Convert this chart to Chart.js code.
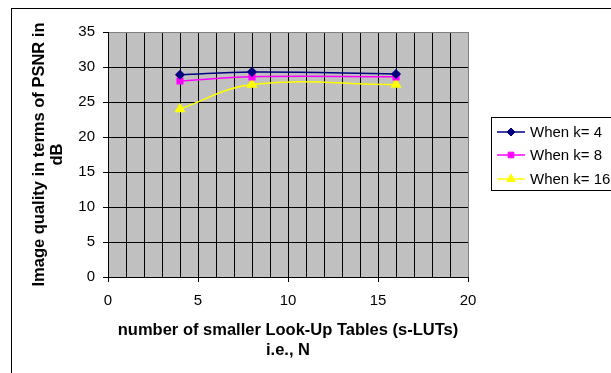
<!DOCTYPE html>
<html>
<head>
<meta charset="utf-8">
<script src="https://cdn.jsdelivr.net/npm/chart.js@4"></script>
<style>
  body { margin: 0; background: #fff; }
  canvas { display: block; }
</style>
</head>
<body>
<canvas id="chart1" width="611" height="373"></canvas>
<script>
// data
var nValues = [4, 8, 16];            // number of s-LUTs, N
var psnrK4 = [28.9, 29.3, 29.0];     // When k= 4
var psnrK8 = [28.0, 28.6, 28.6];     // When k= 8
var psnrK16 = [24.0, 27.5, 27.5];    // When k= 16
var seriesLabels = ['When k= 4', 'When k= 8', 'When k= 16'];
var xTicks = [0, 5, 10, 15, 20];

var FONT = '"Liberation Sans", Arial, sans-serif';

function points(ys) {
  return nValues.map(function (n, i) { return { x: n, y: ys[i] }; });
}

// grey plot background + white page + outer frame
var backPlugin = {
  id: 'back',
  beforeDraw: function (chart) {
    var c = chart.ctx, a = chart.chartArea;
    c.save();
    c.fillStyle = '#fff';
    c.fillRect(0, 0, chart.width, chart.height);
    c.fillStyle = '#c0c0c0';
    c.fillRect(a.left, a.top, a.right - a.left, a.bottom - a.top);
    c.restore();
  },
  afterDraw: function (chart) {
    var c = chart.ctx;
    c.save();
    c.strokeStyle = '#000';
    c.lineWidth = 1;
    c.strokeRect(11.5, 8.5, 620, 400);
    c.restore();
  }
};

// excel style legend: line sample + marker + text
var legendPlugin = {
  id: 'xlLegend',
  afterDraw: function (chart) {
    var c = chart.ctx;
    c.save();
    c.strokeStyle = '#000';
    c.lineWidth = 1;
    c.strokeRect(491.5, 117.5, 140, 73);
    c.font = '15px ' + FONT;
    c.textBaseline = 'middle';
    c.textAlign = 'left';
    var rows = [132, 155, 179];
    chart.data.datasets.forEach(function (ds, i) {
      var y = rows[i];
      c.strokeStyle = ds.borderColor;
      c.lineWidth = 1.5;
      c.beginPath();
      c.moveTo(497, y);
      c.lineTo(525, y);
      c.stroke();
      c.fillStyle = ds.pointBackgroundColor;
      c.strokeStyle = ds.borderColor;
      c.lineWidth = 1;
      Chart.helpers.drawPoint(c, { pointStyle: ds.pointStyle, radius: ds.pointRadius, borderWidth: 1, rotation: 0 }, 511, y);
      c.fillStyle = '#000';
      c.fillText(ds.label, 530, y + 1);
    });
    c.restore();
  }
};

new Chart(document.getElementById('chart1'), {
  type: 'line',
  data: {
    datasets: [{
      label: seriesLabels[0],
      data: points(psnrK4),
      borderColor: '#000080',
      pointBackgroundColor: '#000080',
      pointBorderColor: '#000080',
      pointStyle: 'rectRot',
      pointRadius: 4,
      borderWidth: 1.5,
      tension: 0.4
    }, {
      label: seriesLabels[1],
      data: points(psnrK8),
      borderColor: '#ff00ff',
      pointBackgroundColor: '#ff00ff',
      pointBorderColor: '#ff00ff',
      pointStyle: 'rect',
      pointRadius: 4,
      borderWidth: 1.5,
      tension: 0.4
    }, {
      label: seriesLabels[2],
      data: points(psnrK16),
      borderColor: '#ffff00',
      pointBackgroundColor: '#ffff00',
      pointBorderColor: '#ffff00',
      pointStyle: 'triangle',
      pointRadius: 5,
      borderWidth: 1.5,
      tension: 0.4
    }]
  },
  options: {
    responsive: false,
    animation: false,
    layout: { padding: { top: 32, right: 143, left: 0, bottom: 0 } },
    plugins: { legend: { display: false }, tooltip: { enabled: false } },
    scales: {
      x: {
        type: 'linear',
        min: 0,
        max: 20,
        afterFit: function (s) { s.height = 96; },
        ticks: {
          stepSize: 1,
          autoSkip: false,
          maxRotation: 0,
          padding: 10,
          color: '#000',
          font: { family: FONT, size: 15 },
          callback: function (v) { return xTicks.indexOf(v) >= 0 ? v : ''; }
        },
        grid: {
          color: function (ctx) { return ctx.tick && ctx.tick.value === 20 ? '#808080' : '#000'; },
          tickColor: function (ctx) { return ctx.tick && ctx.tick.value % 5 === 0 ? '#000' : 'rgba(0,0,0,0)'; },
          tickLength: 5,
          lineWidth: 1
        },
        border: { color: '#000', width: 1 },
        title: {
          display: true,
          text: ['number of smaller Look-Up Tables (s-LUTs)', 'i.e., N'],
          color: '#000',
          font: { family: FONT, size: 16.5, weight: 'bold', lineHeight: 1.2 },
          padding: { top: 0, bottom: 13 }
        }
      },
      y: {
        min: 0,
        max: 35,
        afterFit: function (s) { s.width = 108; },
        ticks: {
          stepSize: 5,
          padding: 8,
          color: '#000',
          font: { family: FONT, size: 15 }
        },
        grid: {
          color: function (ctx) { return ctx.tick && ctx.tick.value === 35 ? '#808080' : '#000'; },
          tickColor: '#000',
          tickLength: 5,
          lineWidth: 1
        },
        border: { color: '#000', width: 1 },
        title: {
          display: true,
          text: ['Image quality in terms of PSNR in', 'dB'],
          color: '#000',
          font: { family: FONT, size: 16.5, weight: 'bold', lineHeight: 1.1 },
          padding: { top: 30, bottom: 0 }
        }
      }
    }
  },
  plugins: [backPlugin, legendPlugin]
});
</script>
</body>
</html>
